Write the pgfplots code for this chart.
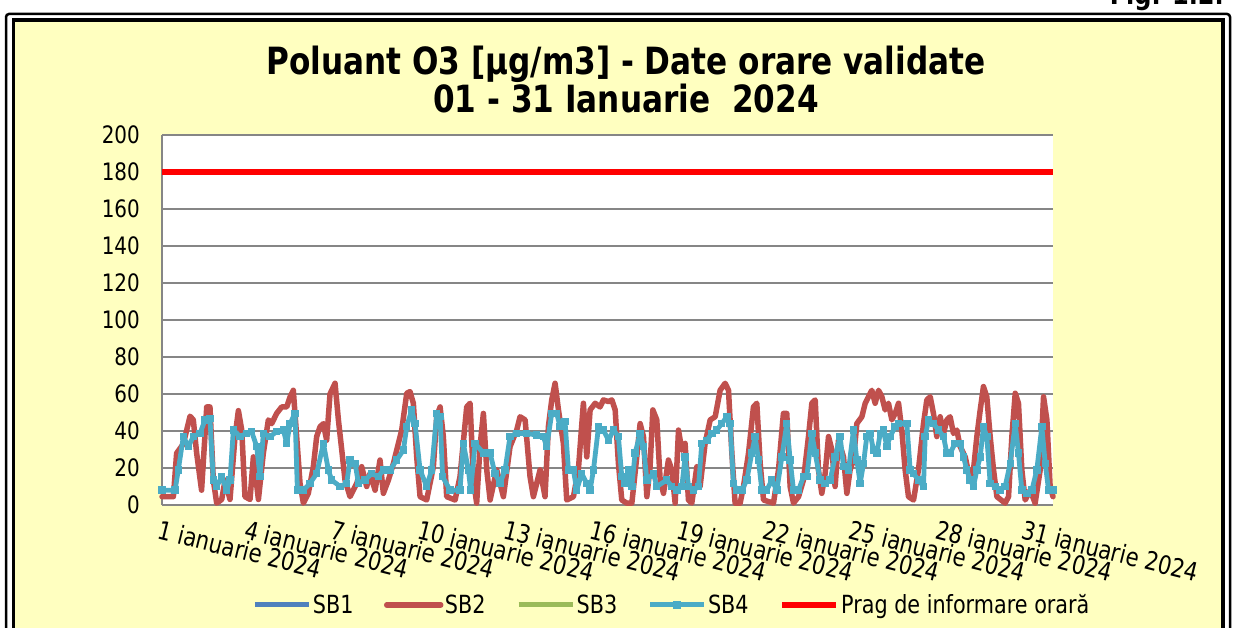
\documentclass[border=0pt]{standalone}
\usepackage{fontspec}
\setmainfont{DejaVu Sans}[FakeStretch=0.83]
\usepackage{pgfplots}
\usepackage{pgfplotstable}
\pgfplotsset{compat=1.18}
\definecolor{sbone}{HTML}{4F81BD}
\definecolor{sbtwo}{HTML}{C0504D}
\definecolor{sbthree}{HTML}{9BBB59}
\definecolor{sbfour}{HTML}{4BACC6}
\definecolor{bgyellow}{RGB}{255,255,192}
\definecolor{gridgray}{RGB}{134,134,134}

\pgfplotstableread{
h v
0 4.5
9.5 4.5
12.2 28
17.8 33
23.4 48
26.1 46
28.9 28
33 8
37.3 53
40 53
42.8 13.5
45.6 1
49.8 3
52.6 13.5
56.7 3
60.9 37
63.7 51
66.5 40.5
69.2 4.5
73.4 3
76.2 26
80.4 3
84.5 28
88.7 46
91.5 44
95.6 49.5
99.8 53
104 53
106.8 58.5
109.5 62
112.3 37
115.1 11.7
117.9 1
122 6.3
126.2 20.7
129 37
131.8 42.3
134.6 44
137.3 35
140.1 60
144.3 65.8
147.1 46
149.9 29.7
152.6 13.5
156.8 4.5
162.4 11.7
166.5 20.7
170.7 10
173.5 17
177.7 8
181.8 24.3
184.6 6.3
188.8 13.5
193 22.5
197.1 33.3
199.9 40.5
204.1 60.4
206.8 61.3
209.6 55
212.4 26
215.2 4.5
220.7 2.7
226.3 20.7
229.1 47.7
231.9 53
234.6 37
237.4 4.5
244.4 2.7
248.5 15.3
254.1 53
256.9 55
259.7 13.5
262.4 1
265.2 31.5
268 49.5
270.8 19
273.6 2.7
279.1 19
284.7 4.5
290.2 31.5
295.8 40.5
298.6 47.7
302.8 46
306.9 15.3
309.7 4.5
315.3 19
319.4 4.5
322.2 42.3
325 56.8
327.8 65.8
330.6 51.4
334.7 33.3
337.5 2.7
343.1 4.5
347.2 19
351.4 55
354.2 26
357 51.4
361.2 55
365.3 53
368.1 56.8
372.3 55.9
375.1 56.8
377.9 51.4
380.6 22.5
383.4 2.7
387.6 1
391.8 1
395.9 26
398.7 44
401.5 37
404.3 4.5
407 20.7
409.3 51.4
412.6 46
415.4 13.5
418.2 6.3
422.3 24.3
425.1 19
427.9 1
430.7 40.5
433.5 29.7
436.2 33.3
439 2.7
441.8 1
446 20.7
448.7 10
452.9 33.3
457.1 46
461.3 47.7
465.4 62
469.6 65.8
472.4 62
475.2 28
477.9 1
482.1 1
484.9 10
489.1 28
493.2 53
496 55
498.8 22.5
501.6 2.7
509.9 1
514.1 19
518.2 49.5
521 49.5
523.8 10
526.6 1
530.8 4.5
534.9 13.5
539.1 37
541.9 55
544.7 56.8
547.4 19
550.2 6.3
553 17
555.8 37
558.6 29.7
561.3 10
564.1 35
568.3 26
571.1 6.3
573.8 19
576.6 24.3
579.4 44
583.6 47.7
586.4 55
589.1 58.5
591.9 62
594.7 55
597.5 62
600.3 58.5
603 51.4
605.8 55
608.6 46
611.4 49.5
614.2 55
616.9 40.5
619.7 19
622.5 4.5
626.7 2.7
630.8 19
635 44
637.8 56.8
640.6 58.5
643.3 49.5
646.1 37
648.9 47.7
651.7 38.7
654.5 46
657.2 47.7
660 38.7
662.8 40.5
665.6 31.5
669.8 26
673.9 13.5
676.7 19
679.5 37
682.3 51.4
685 64
687.8 58.5
690.6 37
693.4 19
696.2 4.5
703.1 1
705.9 4.5
708.7 37
711.5 60.4
714.2 55
717 19
719.8 2.7
724 8
728.1 1
732.3 19
735.1 58.5
737.9 46
740.6 10
743 4.5
}\sbtwodata

\pgfplotstableread{
h v
0 8
10.9 8
13.6 19
17.8 37
22 31.5
26.1 37
31.7 38.7
35.9 46
40 46.8
42.8 13.5
45.6 10
49.8 15.3
54 8
56.7 13.5
59.5 40.5
65.1 37
70.6 38.7
74.8 39.6
79 31.5
81.7 15.3
84.5 38.7
90.1 37
95.6 39.6
101.2 40.5
104 33.3
106.8 44
110.9 49.5
112.9 8
117.9 8
123.4 11.7
129 17
134.6 33.3
138.7 19
141.5 13.5
148.5 10
154 11.7
156.8 24.3
161 22.5
163.8 11.7
169.3 13.5
174.9 17
180.4 15.3
184.6 19
190.2 19
195.7 24.3
201.3 29.7
204.1 42.3
208.2 51.4
211 44
215.2 19
220.7 10
224.9 19
229.1 49.5
231.9 47.7
234 15.3
240.2 8
248.5 8
251.3 33.3
255.5 19
257.4 8
261.1 33.3
268 28
273.6 28
277.7 17
281.9 11.7
286.1 19
290.2 37
295.8 38.7
304.1 38.7
312.5 37.8
318 37
320.8 31.5
325 49.5
329.2 49.5
331.9 42.3
336.1 45
338.9 19
343.1 19
345.8 8
350 17
354.2 11.7
357 8
359.8 19
364 42.3
368.1 40.5
372.3 35
376.5 40.5
380.6 37
383.4 15.3
386.2 11.7
389 19
391.8 10
394.5 28
398.7 38.7
401.5 31.5
404.3 13.5
409.8 17
412.6 10
420.9 13.5
425.1 10
429.3 8
433.5 10
436.2 26
439 10
443.2 8
447.4 10
450.1 33.3
454.3 35
458.5 38.7
462.6 40.5
466.8 44
471 47.7
473.8 44
476.5 11.7
479.3 8
483.5 8
487.7 13.5
491.8 28
494.6 37
497.4 24.3
500.2 8
504.3 8
508.5 13.5
512.7 8
516.9 26
521 44
523.8 24.3
526.6 8
530.8 8
534.9 15.3
537.7 15.3
541.9 38.7
544.7 28
548.8 13.5
553 11.7
557.2 13.5
561.3 26
565.5 37
568.3 20.7
572.5 19
576.6 40.5
579.4 24.3
582.2 11.7
585 22.5
587.7 37
590.5 38.7
593.3 29.7
596.1 28
598.9 38.7
601.6 40.5
604.4 31.5
607.2 37
611.4 42.3
614.2 44
621.1 44
623.9 19
626.7 17
630.8 13.5
635 10
636.4 37
639.2 46
643.3 44
647.5 40.5
651.7 37
654.5 28
657.2 28
661.4 33.3
665.6 33.3
668.4 26
671.1 19
673.9 13.5
676.7 10
679.5 19
682.3 26
685 42.3
687.8 37
690.6 11.7
694.8 10
698.9 8
703.1 10
707.3 22.5
711.5 44
714.2 28
717 8
721.2 6.3
725.4 8
729.5 19
733.7 42.3
736.5 22.5
739.3 8
743 8
}\sbfourdata

\begin{document}
\begin{tikzpicture}[x=1pt,y=1pt]
\fill[white] (0,0) rectangle (1233,628);
% Fig label (partly cut off at top)
\node[anchor=base east, inner sep=0pt, font=\fontsize{29}{34}\selectfont\bfseries] at (1224,623) {Fig. 1.2.};
% frame
\draw[black, line width=2.5pt, rounded corners=3pt, fill=white] (6,-40) rectangle (1230,614);
\draw[black, line width=3.5pt, fill=bgyellow] (13.5,-40) rectangle (1223,608);

\begin{axis}[
  at={(162pt,123pt)}, anchor=south west,
  scale only axis, width=891pt, height=370pt,
  xmin=0, xmax=743, ymin=0, ymax=200,
  clip=false,
  axis background/.style={fill=white},
  axis x line*=bottom, axis y line*=left,
  axis line style={gridgray, line width=1.5pt},
  ymajorgrids, major grid style={gridgray, line width=2pt},
  major tick length=0pt,
  xtick={0,72,...,720},
  xticklabels={1 ianuarie 2024,4 ianuarie 2024,7 ianuarie 2024,10 ianuarie 2024,13 ianuarie 2024,16 ianuarie 2024,19 ianuarie 2024,22 ianuarie 2024,25 ianuarie 2024,28 ianuarie 2024,31 ianuarie 2024},
  ytick={0,20,...,200},
  /pgf/number format/assume math mode=true,
  tick label style={font=\fontsize{24}{28}\selectfont},
  xticklabel style={font=\fontsize{25.5}{28}\selectfont, rotate=-14, anchor=north west, inner sep=0pt, xshift=3pt, yshift=-14pt},
  yticklabel style={anchor=east, inner sep=0pt, xshift=-22pt},
  legend columns=5,
  legend cell align=left,
  legend style={at={(axis description cs:0.572,-0.27)}, anchor=center, draw=none, fill=none,
    font=\fontsize{25}{28}\selectfont, inner sep=0pt,
    nodes={inner sep=1.5pt},
    /tikz/every even column/.append style={column sep=29pt}},
  legend image code/.code={\draw[mark repeat=2,mark phase=2,#1] plot coordinates {(0pt,0pt) (27pt,0pt) (54pt,0pt)};},
]
\addlegendimage{sbone, line width=5pt}
\addlegendentry{SB1}
\addplot[sbtwo, line width=5.5pt, line join=round, line cap=round] table[x=h,y=v] {\sbtwodata};
\addlegendentry{SB2}
\addlegendimage{sbthree, line width=5pt}
\addlegendentry{SB3}
\addplot[sbfour, line width=4.8pt, line join=round, mark=square*, mark size=3.2pt, mark options={sbfour, line width=0pt}] table[x=h,y=v] {\sbfourdata};
\addlegendentry{SB4}
\addplot[red, line width=6.5pt] coordinates {(0,180) (743,180)};
\addlegendentry{Prag de informare orară}
\end{axis}

\node[anchor=base, inner sep=0pt, font=\fontsize{37.5}{44}\selectfont\bfseries] at (626,553) {Poluant O3 [µg/m3] - Date orare validate};
\node[anchor=base, inner sep=0pt, font=\fontsize{37.5}{44}\selectfont\bfseries] at (626,515) {01 - 31 Ianuarie\ \ 2024};

\pgfresetboundingbox
\path (0,0) rectangle (1233,628);
\end{tikzpicture}
\end{document}
